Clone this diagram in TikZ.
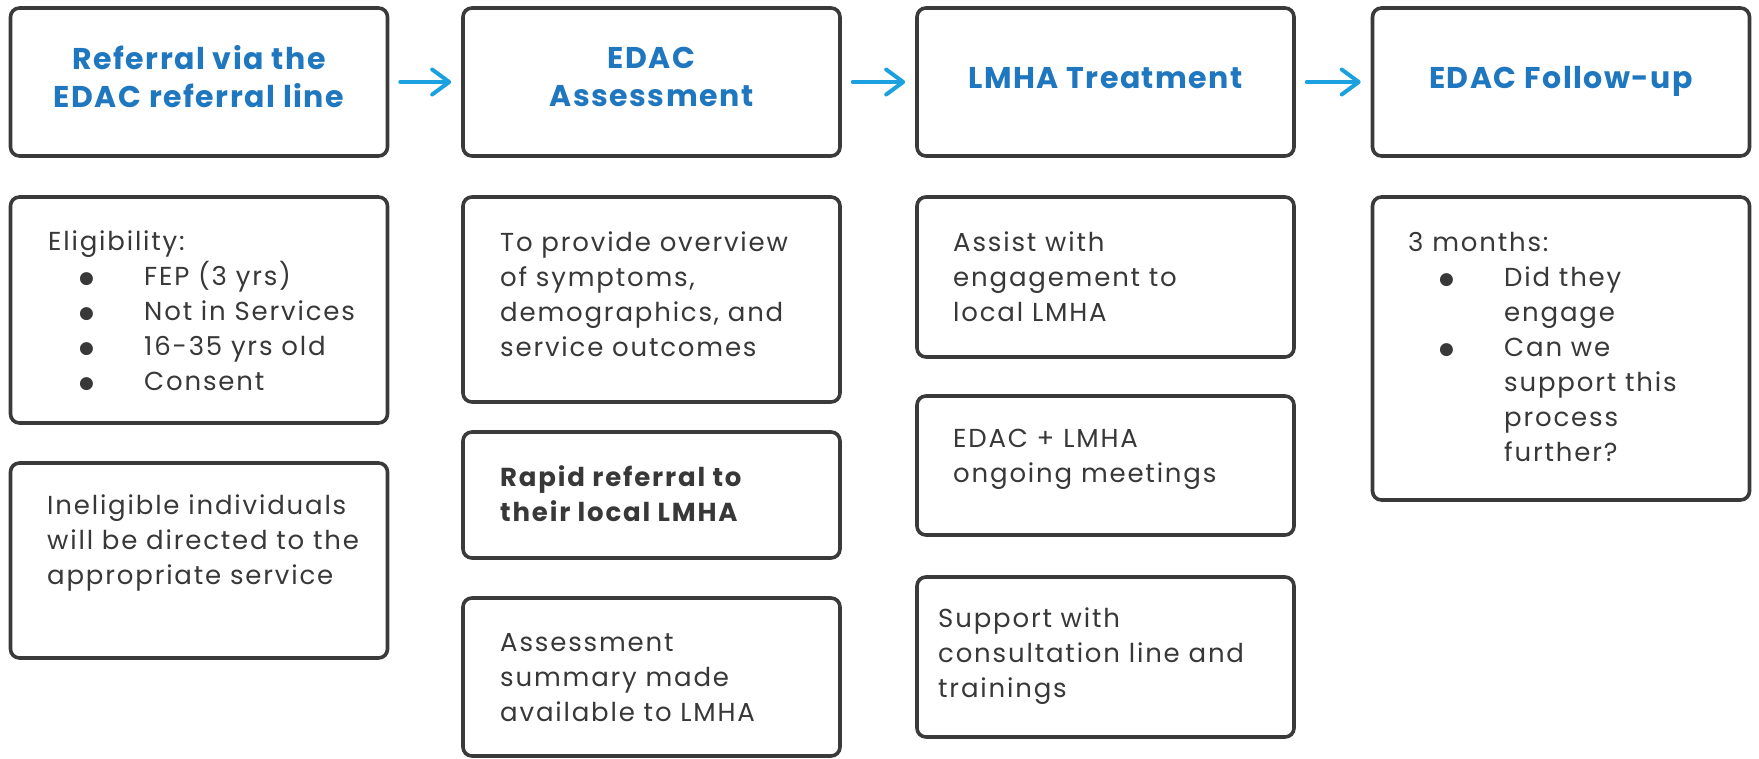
\documentclass[tikz,border=0pt]{standalone}
\usepackage{fontspec}
\setmainfont{Poppins}[LetterSpace=7]
\newfontfamily\headfont{Poppins}[LetterSpace=5]
\newfontfamily\dotfont{DejaVu Sans}
\usetikzlibrary{arrows.meta}
\definecolor{cardline}{HTML}{3A3A3A}
\definecolor{headblue}{HTML}{1F77BF}
\definecolor{arrowblue}{HTML}{1BA0E0}
\definecolor{bodygray}{HTML}{383838}
\newcommand\bodysize{\fontsize{26}{35}\selectfont}
\newcommand\headsize{\fontsize{30}{38}\selectfont}
% bullet line of a list: dot, then the item
\newcommand\itm[1]{\hspace*{31pt}\makebox[65pt][l]{\raisebox{2pt}{\dotfont\fontsize{17}{17}\selectfont ●}}#1}
\newcommand\cont[1]{\hspace*{96pt}#1}

\begin{document}
\begin{tikzpicture}[x=1pt,y=-1pt,
  card/.style={draw=cardline, line width=3.6pt, rounded corners=9pt, minimum width=377pt, inner sep=0pt},
  head/.style={card, minimum height=148pt},
  headtext/.style={align=center, inner sep=0pt, text=headblue, font=\headfont\headsize\bfseries},
  body/.style={anchor=west, align=left, inner sep=0pt, text=bodygray, font=\bodysize},
  flow/.style={draw=arrowblue, line width=4pt, line cap=round, -{Straight Barb[length=17pt,width=25pt,round]}, shorten <=11pt, shorten >=10pt}]

  \fill[white] (0,0) rectangle (1759,758);
  \useasboundingbox (0,0) rectangle (1759,758);

  %%%%% headers %%%%%
  \node[head] (hdrRef) at (199,82) {};
  \node[head] (hdrAss) at (651.5,82) {};
  \node[head] (hdrTreat) at (1105.5,82) {};
  \node[head] (hdrFollow) at (1561,82) {};

  \node[headtext] (hRef) at (199,76.5) {Referral via the\\EDAC referral line};
  \node[headtext] (hAss) at (651.5,76.5) {EDAC\\Assessment};
  \node[headtext, text depth=0pt] (hTreat) at (1105.5,77.5) {LMHA Treatment};
  \node[headtext, text depth=0pt] (hFollow) at (1561,77.5) {EDAC Follow-up};

  \draw[flow] (hdrRef) -- (hdrAss);
  \draw[flow] (hdrAss) -- (hdrTreat);
  \draw[flow] (hdrTreat) -- (hdrFollow);

  %%%%% cards %%%%%
  \node[card, minimum height=226pt] (cElig) at (199,310) {};
  \node[card, minimum height=195pt] (cInelig) at (199,560.5) {};

  \node[card, minimum height=205pt] (cOverview) at (651.5,299.5) {};
  \node[card, minimum height=126pt] (cRapid) at (651.5,495) {};
  \node[card, minimum height=158pt] (cSummary) at (651.5,677) {};

  \node[card, minimum height=160pt] (cEngage) at (1105.5,277) {};
  \node[card, minimum height=139pt] (cMeet) at (1105.5,465.5) {};
  \node[card, minimum height=160pt] (cConsult) at (1105.5,657) {};

  \node[card, minimum height=303pt] (cMonths) at (1561,348.5) {};

  %%%%% texts %%%%%
  \node[body] (tElig) at (48,311) {Eligibility:\\\itm{FEP (3 yrs)}\\\itm{Not in Services}\\\itm{16-35 yrs old}\\\itm{Consent}};
  \node[body] (tInelig) at (47,543) {Ineligible individuals\\will be directed to the\\appropriate service};

  \node[body] (tOverview) at (500,294) {To provide overview\\of symptoms,\\demographics, and\\service outcomes};
  \node[body, font=\bodysize\bfseries] (tRapid) at (500,494) {Rapid referral to\\their local LMHA};
  \node[body] (tSummary) at (500,678) {Assessment\\summary made\\available to LMHA};

  \node[body] (tEngage) at (953,276.5) {Assist with\\engagement to\\local LMHA};
  \node[body] (tMeet) at (953,459) {EDAC + LMHA\\ongoing meetings};
  \node[body] (tConsult) at (938,656) {Support with\\consultation line and\\trainings};

  \node[body] (tMonths) at (1408,346.5) {3 months:\\\itm{Did they}\\\cont{engage}\\\itm{Can we}\\\cont{support this}\\\cont{process}\\\cont{further?}};

\end{tikzpicture}
\end{document}
